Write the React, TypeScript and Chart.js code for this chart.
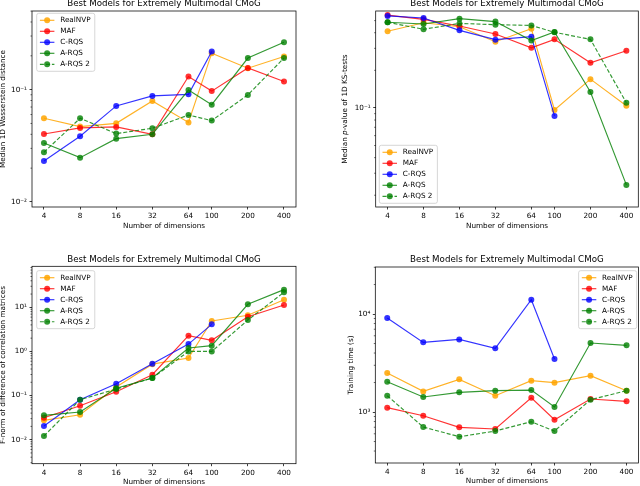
import React, { useEffect, useRef } from 'react';
import { Chart, registerables } from 'chart.js';
Chart.register(...registerables);

const FONT = '"DejaVu Sans", "Liberation Sans", sans-serif';

const dims = [4, 8, 16, 32, 64, 100, 200, 400];
const seriesNames = ['RealNVP', 'MAF', 'C-RQS', 'A-RQS', 'A-RQS 2'];
const seriesColors = ['rgba(255,165,0,0.85)', 'rgba(255,0,0,0.8)', 'rgba(0,0,255,0.8)', 'rgba(0,128,0,0.8)', 'rgba(0,128,0,0.8)'];
const seriesDashed = [false, false, false, false, true];

// Panel 1: Median 1D Wasserstein distance
const wRealNVP = [0.0556, 0.0469, 0.0501, 0.0792, 0.0511, 0.211, 0.155, 0.197];
const wMAF = [0.0403, 0.0456, 0.0466, 0.040, 0.131, 0.097, 0.156, 0.118];
const wCRQS = [0.0232, 0.0385, 0.0716, 0.0879, 0.0908, 0.218, null, null];
const wARQS = [0.0335, 0.0248, 0.0366, 0.040, 0.099, 0.0735, 0.191, 0.264];
const wARQS2 = [0.0277, 0.0556, 0.0406, 0.0453, 0.0594, 0.053, 0.0897, 0.191];

// Panel 2: Median p-value of 1D KS-tests
const ksRealNVP = [0.411, 0.481, 0.447, 0.339, 0.431, 0.0964, 0.170, 0.104];
const ksMAF = [0.554, 0.512, 0.453, 0.391, 0.303, 0.354, 0.230, 0.287];
const ksCRQS = [0.545, 0.525, 0.418, 0.352, 0.372, 0.0863, null, null];
const ksARQS = [0.485, 0.470, 0.518, 0.491, 0.346, 0.406, 0.134, 0.0242];
const ksARQS2 = [0.485, 0.426, 0.475, 0.464, 0.458, 0.403, 0.354, 0.110];

// Panel 3: F-norm of difference of correlation matrices
const fRealNVP = [0.0274, 0.0368, 0.156, 0.515, 0.71, 4.9, 6.6, 14.9];
const fMAF = [0.0315, 0.0589, 0.1225, 0.297, 2.28, 1.79, 6.14, 11.3];
const fCRQS = [0.0204, 0.0805, 0.186, 0.528, 1.47, 4.12, null, null];
const fARQS = [0.0356, 0.0423, 0.146, 0.25, 1.2, 1.35, 11.7, 25.2];
const fARQS2 = [0.0121, 0.0805, 0.14, 0.25, 1.0, 1.0, 5.16, 21.9];

// Panel 4: Training time (s)
const tRealNVP = [2500, 1625, 2155, 1468, 2090, 1993, 2350, 1652];
const tMAF = [1108, 918, 698, 671, 1400, 836, 1358, 1286];
const tCRQS = [9100, 5140, 5510, 4464, 14000, 3475, null, null];
const tARQS = [2040, 1423, 1588, 1652, 1676, 1125, 5060, 4790];
const tARQS2 = [1468, 703, 560, 640, 796, 640, 1336, 1652];

const titleText = 'Best Models for Extremely Multimodal CMoG';
const xTitleText = 'Number of dimensions';
const xMin = 3.18;
const xMax = 503.6;

const supMap: Record<string, string> = { '-': '⁻', '0': '⁰', '1': '¹', '2': '²', '3': '³', '4': '⁴', '5': '⁵' };
const powLabel = (e: number) => '10' + String(e).split('').map((c) => supMap[c]).join('');

type Seg = { text: string; italic?: boolean };
type Panel = {
  left: number; top: number;
  area: { l: number; t: number; r: number; b: number };
  yMin: number; yMax: number;
  series: (number | null)[][];
  yTitle: Seg[]; yTitleX: number;
  titleY: number; xTitleOff: number;
  legend: { x: number; y: number; anchor: 'tl' | 'bl' | 'tr' };
};

const W = 320, H = 243;

const panels: Panel[] = [
  {
    left: 0, top: 0, area: { l: 32, t: 11, r: 296, b: 207 }, yMin: 0.00902, yMax: 0.501,
    series: [wRealNVP, wMAF, wCRQS, wARQS, wARQS2],
    yTitle: [{ text: 'Median 1D Wasserstein distance' }], yTitleX: 3.6,
    titleY: 4, xTitleOff: 18.7, legend: { x: 36.7, y: 13.3, anchor: 'tl' },
  },
  {
    left: 320, top: 0, area: { l: 55.7, t: 11, r: 318.3, b: 207 }, yMin: 0.0161, yMax: 0.597,
    series: [ksRealNVP, ksMAF, ksCRQS, ksARQS, ksARQS2],
    yTitle: [{ text: 'Median ' }, { text: 'p', italic: true }, { text: '-value of 1D KS-tests' }], yTitleX: 25,
    titleY: 4, xTitleOff: 18.7, legend: { x: 59.3, y: 203.3, anchor: 'bl' },
  },
  {
    left: 0, top: 243, area: { l: 32, t: 23.3, r: 296, b: 220.7 }, yMin: 0.00285, yMax: 85.2,
    series: [fRealNVP, fMAF, fCRQS, fARQS, fARQS2],
    yTitle: [{ text: 'F-norm of difference of correlation matrices' }], yTitleX: 3.4,
    titleY: 16.7, xTitleOff: 18, legend: { x: 36.7, y: 27.7, anchor: 'tl' },
  },
  {
    left: 320, top: 243, area: { l: 55.3, t: 24, r: 318.5, b: 220 }, yMin: 302, yMax: 30200,
    series: [tRealNVP, tMAF, tCRQS, tARQS, tARQS2],
    yTitle: [{ text: 'Training time (s)' }], yTitleX: 30.7,
    titleY: 16.7, xTitleOff: 18, legend: { x: 316.7, y: 27.7, anchor: 'tr' },
  },
];

const FS = 7.25;
const TITLE_FS = 8.7;
const PR = 3.0;
const LW = 1.15;

function decor(p: Panel) {
  return {
    id: 'decor',
    afterDraw(chart: any) {
      const { ctx, chartArea: a, scales } = chart;
      ctx.save();
      // frame
      ctx.strokeStyle = '#000';
      ctx.lineWidth = 0.75;
      ctx.strokeRect(a.left, a.top, a.right - a.left, a.bottom - a.top);
      // minor ticks on y
      const ys = scales.y;
      ctx.lineWidth = 0.6;
      ctx.beginPath();
      for (let d = Math.floor(Math.log10(p.yMin)); d <= Math.ceil(Math.log10(p.yMax)); d++) {
        for (let k = 2; k <= 9; k++) {
          const v = k * Math.pow(10, d);
          if (v < p.yMin || v > p.yMax) continue;
          const py = ys.getPixelForValue(v);
          ctx.moveTo(a.left - 1.5, py);
          ctx.lineTo(a.left, py);
        }
      }
      ctx.stroke();
      // title
      ctx.fillStyle = '#000';
      ctx.textAlign = 'center';
      ctx.textBaseline = 'middle';
      ctx.font = `${TITLE_FS}px ${FONT}`;
      ctx.fillText(titleText, (a.left + a.right) / 2, p.titleY);
      // x title
      ctx.font = `${FS}px ${FONT}`;
      ctx.fillText(xTitleText, (a.left + a.right) / 2, a.bottom + p.xTitleOff);
      // y title (rotated, with segments)
      ctx.save();
      ctx.translate(p.yTitleX, (a.top + a.bottom) / 2);
      ctx.rotate(-Math.PI / 2);
      ctx.textAlign = 'left';
      const fonts = p.yTitle.map((s) => `${s.italic ? 'italic ' : ''}${FS}px ${FONT}`);
      let total = 0;
      const widths = p.yTitle.map((s, i) => { ctx.font = fonts[i]; const w = ctx.measureText(s.text).width; total += w; return w; });
      let cx = -total / 2;
      p.yTitle.forEach((s, i) => { ctx.font = fonts[i]; ctx.fillText(s.text, cx, 0); cx += widths[i]; });
      ctx.restore();
      // legend
      ctx.font = `${FS}px ${FONT}`;
      let tw = 0;
      seriesNames.forEach((n) => { tw = Math.max(tw, ctx.measureText(n).width); });
      const pad = 3.2, handle = 14.5, gap = 5.8, rowH = 11, topPad = 7;
      const bw = pad + handle + gap + tw + pad + 1;
      const bh = topPad * 2 + rowH * (seriesNames.length - 1);
      let bx = p.legend.x, by = p.legend.y;
      if (p.legend.anchor === 'bl') by = p.legend.y - bh;
      if (p.legend.anchor === 'tr') bx = p.legend.x - bw;
      ctx.beginPath();
      (ctx as any).roundRect(bx, by, bw, bh, 2);
      ctx.fillStyle = 'rgba(255,255,255,0.8)';
      ctx.fill();
      ctx.strokeStyle = '#cccccc';
      ctx.lineWidth = 0.8;
      ctx.stroke();
      seriesNames.forEach((n, i) => {
        const cy = by + topPad + i * rowH;
        const x0 = bx + pad;
        ctx.strokeStyle = seriesColors[i];
        ctx.lineWidth = LW;
        ctx.setLineDash(seriesDashed[i] ? [4, 2] : []);
        ctx.beginPath();
        ctx.moveTo(x0, cy);
        ctx.lineTo(x0 + handle, cy);
        ctx.stroke();
        ctx.setLineDash([]);
        ctx.fillStyle = seriesColors[i];
        ctx.beginPath();
        ctx.arc(x0 + handle / 2, cy, PR, 0, Math.PI * 2);
        ctx.fill();
        ctx.fillStyle = '#000';
        ctx.textAlign = 'left';
        ctx.textBaseline = 'middle';
        ctx.fillText(n, x0 + handle + gap, cy + 0.3);
      });
      ctx.restore();
    },
  };
}

function PanelChart({ p }: { p: Panel }) {
  const ref = useRef<HTMLCanvasElement>(null);
  useEffect(() => {
    if (!ref.current) return;
    const decMin = Math.ceil(Math.log10(p.yMin));
    const decMax = Math.floor(Math.log10(p.yMax));
    const yTicks: number[] = [];
    for (let d = decMin; d <= decMax; d++) yTicks.push(Math.pow(10, d));
    const datasets = p.series.map((vals, i) => ({
      label: seriesNames[i],
      data: dims.map((x, j) => ({ x, y: vals[j] })).filter((pt) => pt.y !== null),
      borderColor: seriesColors[i],
      backgroundColor: seriesColors[i],
      pointBackgroundColor: seriesColors[i],
      pointBorderColor: seriesColors[i],
      pointBorderWidth: 0,
      pointRadius: PR,
      borderWidth: LW,
      borderDash: seriesDashed[i] ? [4, 2] : [],
      tension: 0,
      fill: false,
      order: 10 - i,
    }));
    const chart = new Chart(ref.current, {
      type: 'line',
      data: { datasets },
      plugins: [decor(p)],
      options: {
        animation: false,
        responsive: false,
        events: [],
        layout: { autoPadding: false, padding: { left: 0, top: p.area.t, right: W - p.area.r, bottom: 0 } },
        plugins: { legend: { display: false }, tooltip: { enabled: false }, title: { display: false } },
        scales: {
          x: {
            type: 'logarithmic',
            min: xMin,
            max: xMax,
            afterBuildTicks: (s: any) => { s.ticks = dims.map((v) => ({ value: v })); },
            afterFit: (s: any) => { s.height = H - p.area.b; },
            grid: { display: true, drawOnChartArea: false, drawTicks: true, tickLength: 2.5, color: '#000', lineWidth: 0.75 },
            border: { display: false },
            ticks: {
              autoSkip: false, maxRotation: 0, minRotation: 0, padding: 2.5, color: '#000',
              font: { family: FONT, size: FS },
              callback: (v: any) => String(v),
            },
          },
          y: {
            type: 'logarithmic',
            min: p.yMin,
            max: p.yMax,
            afterBuildTicks: (s: any) => { s.ticks = yTicks.map((v) => ({ value: v })); },
            afterFit: (s: any) => { s.width = p.area.l; },
            grid: { display: true, drawOnChartArea: false, drawTicks: true, tickLength: 2.5, color: '#000', lineWidth: 0.75 },
            border: { display: false },
            ticks: {
              autoSkip: false, padding: 2.5, color: '#000',
              font: { family: FONT, size: FS },
              callback: (v: any) => powLabel(Math.round(Math.log10(Number(v)))),
            },
          },
        },
      } as any,
    });
    return () => chart.destroy();
  }, [p]);
  return (
    <canvas
      ref={ref}
      width={W}
      height={H}
      style={{ position: 'absolute', left: p.left, top: p.top, width: W, height: H }}
    />
  );
}

export default function App() {
  return (
    <div style={{ position: 'absolute', left: 0, top: 0, width: 640, height: 486, background: '#fff' }}>
      {panels.map((p, i) => (
        <PanelChart key={i} p={p} />
      ))}
    </div>
  );
}
